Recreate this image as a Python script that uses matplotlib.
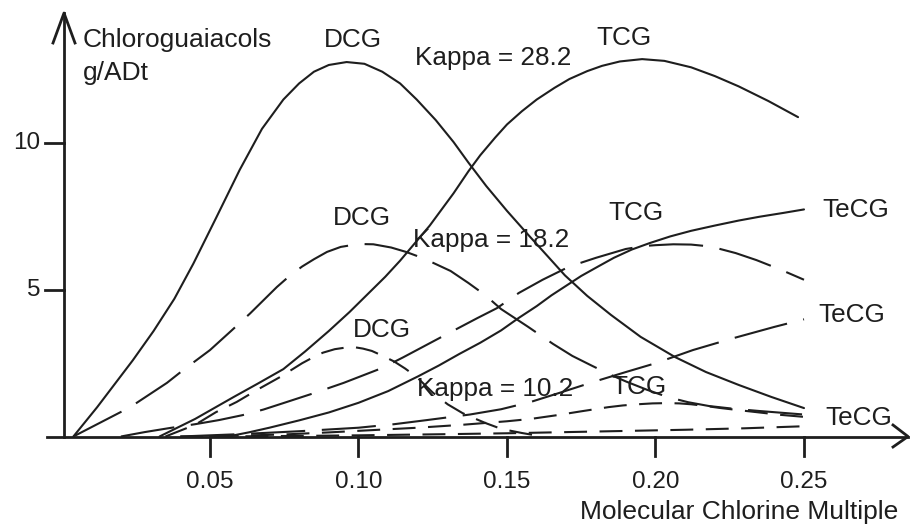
import matplotlib
matplotlib.use("Agg")
import matplotlib.pyplot as plt

plt.rcParams['font.family'] = ['Liberation Sans', 'DejaVu Sans']

# ---------------- data ----------------
x_ticks = [0.05, 0.10, 0.15, 0.20, 0.25]
x_tick_labels = ["0.05", "0.10", "0.15", "0.20", "0.25"]
y_ticks = [5, 10]
y_tick_labels = ["5", "10"]

# Kappa = 28.2 (solid)
dcg_282_x = [0.004, 0.012, 0.018, 0.024, 0.031, 0.038, 0.0444, 0.052, 0.060, 0.0675, 0.0747,
             0.080, 0.085, 0.090, 0.096, 0.102, 0.108, 0.114, 0.1196, 0.126, 0.132, 0.137,
             0.143, 0.15, 0.157, 0.1638, 0.1695, 0.177, 0.185, 0.195, 0.2066, 0.217, 0.228,
             0.239, 0.25]
dcg_282_y = [0.0, 1.0, 1.8, 2.6, 3.6, 4.7, 5.9, 7.45, 9.1, 10.5, 11.5,
             12.05, 12.45, 12.68, 12.78, 12.72, 12.45, 12.05, 11.5, 10.8, 10.05, 9.35,
             8.55, 7.7, 6.9, 6.14, 5.5, 4.8, 4.15, 3.4, 2.71, 2.2, 1.76,
             1.35, 0.97]
tcg_282_x = [0.033, 0.045, 0.058, 0.066, 0.0747, 0.082, 0.09, 0.097, 0.103, 0.109, 0.114,
             0.119, 0.124, 0.128, 0.132, 0.137, 0.141, 0.146, 0.150, 0.155, 0.160, 0.166,
             0.171, 0.177, 0.182, 0.188, 0.1955, 0.203, 0.212, 0.22, 0.228, 0.238, 0.248]
tcg_282_y = [0.0, 0.6, 1.35, 1.8, 2.3, 2.9, 3.6, 4.25, 4.85, 5.45, 6.0,
             6.6, 7.2, 7.75, 8.3, 9.05, 9.6, 10.2, 10.65, 11.1, 11.5, 11.9,
             12.2, 12.47, 12.65, 12.8, 12.88, 12.82, 12.6, 12.3, 11.95, 11.45, 10.9]
tecg_282_x = [0.056, 0.063, 0.07, 0.08, 0.09, 0.1, 0.11, 0.12, 0.127, 0.134, 0.141, 0.148,
              0.154, 0.16, 0.165, 0.17, 0.175, 0.181, 0.186, 0.192, 0.198, 0.205, 0.212,
              0.22, 0.228, 0.235, 0.243, 0.25]
tecg_282_y = [0.0, 0.14, 0.3, 0.55, 0.82, 1.15, 1.55, 2.05, 2.42, 2.82, 3.2, 3.62,
              4.05, 4.45, 4.82, 5.15, 5.48, 5.82, 6.1, 6.38, 6.6, 6.83, 7.02,
              7.2, 7.37, 7.5, 7.63, 7.75]

# Kappa = 18.2 (long dashes)
dcg_182_x = [0.004, 0.0231, 0.0355, 0.041, 0.05, 0.0574, 0.0635, 0.0725, 0.077, 0.081, 0.085,
             0.0894, 0.094, 0.1, 0.105, 0.111, 0.116, 0.12, 0.124, 0.131, 0.137, 0.1426,
             0.148, 0.157, 0.1655, 0.172, 0.1785, 0.185, 0.19, 0.197, 0.204, 0.211, 0.218,
             0.226, 0.235, 0.25]
dcg_182_y = [0.0, 1.0, 1.83, 2.27, 2.95, 3.63, 4.2, 5.1, 5.5, 5.8, 6.05,
             6.3, 6.47, 6.57, 6.56, 6.45, 6.3, 6.15, 5.98, 5.65, 5.24, 4.83,
             4.35, 3.75, 3.16, 2.75, 2.42, 2.1, 1.88, 1.6, 1.35, 1.17, 1.04,
             0.95, 0.87, 0.75]
tcg_182_x = [0.02, 0.028, 0.0365, 0.045, 0.053, 0.061, 0.068, 0.0747, 0.085, 0.095, 0.108,
             0.115, 0.128, 0.14, 0.1466, 0.154, 0.162, 0.171, 0.18, 0.19, 0.196, 0.2,
             0.206, 0.212, 0.217, 0.221, 0.227, 0.234, 0.242, 0.25]
tcg_182_y = [0.0, 0.15, 0.29, 0.42, 0.56, 0.73, 0.92, 1.14, 1.48, 1.83, 2.34,
             2.7, 3.4, 4.04, 4.38, 4.9, 5.35, 5.8, 6.1, 6.4, 6.5, 6.53,
             6.56, 6.55, 6.5, 6.42, 6.26, 6.02, 5.7, 5.35]
tecg_182_x = [0.04, 0.06, 0.08, 0.1, 0.112, 0.123, 0.1375, 0.148, 0.158, 0.168, 0.179,
              0.19, 0.2, 0.2126, 0.226, 0.24, 0.25]
tecg_182_y = [0.0, 0.08, 0.18, 0.3, 0.42, 0.56, 0.75, 0.93, 1.18, 1.5, 1.86,
              2.2, 2.5, 2.95, 3.35, 3.74, 4.0]

# Kappa = 10.2 (short dashes)
dcg_102_x = [0.035, 0.045, 0.052, 0.059, 0.066, 0.0736, 0.081, 0.0843, 0.088, 0.092, 0.096,
             0.0985, 0.1015, 0.1045, 0.108, 0.112, 0.1157, 0.1196, 0.125, 0.13, 0.135, 0.139,
             0.143, 0.147, 0.151, 0.155, 0.159]
dcg_102_y = [0.0, 0.4, 0.83, 1.18, 1.6, 2.03, 2.5, 2.68, 2.86, 2.98, 3.04,
             3.05, 3.0, 2.92, 2.76, 2.56, 2.32, 2.03, 1.5, 1.1, 0.8, 0.62,
             0.45, 0.3, 0.2, 0.12, 0.05]
tcg_102_x = [0.04, 0.06, 0.075, 0.09, 0.105, 0.12, 0.135, 0.15, 0.158, 0.167, 0.175,
             0.184, 0.189, 0.194, 0.199, 0.204, 0.208, 0.212, 0.217, 0.222, 0.228, 0.235,
             0.242, 0.25]
tcg_102_y = [0.0, 0.03, 0.07, 0.14, 0.22, 0.3, 0.4, 0.52, 0.6, 0.73, 0.86,
             1.0, 1.06, 1.1, 1.13, 1.14, 1.13, 1.1, 1.04, 0.97, 0.9, 0.82,
             0.74, 0.67]
tecg_102_x = [0.05, 0.08, 0.1, 0.13, 0.15, 0.17, 0.19, 0.21, 0.23, 0.25]
tecg_102_y = [0.0, 0.02, 0.04, 0.08, 0.11, 0.15, 0.19, 0.23, 0.28, 0.35]

# ---------------- figure ----------------
W, H = 910, 524
fig = plt.figure(figsize=(W / 100, H / 100), dpi=100)
ax = fig.add_axes([0, 0, 1, 1])
ax.set_axis_off()

# pixel <-> data mapping of the reference axes
X0PX, XSCALE = 61.5, 2970.0
Y0PX, YSCALE = 436.5, 29.3
def px_x(p):
    return (p - X0PX) / XSCALE
def px_y(p):
    return (Y0PX - p) / YSCALE

ax.set_xlim(px_x(0), px_x(W))
ax.set_ylim(px_y(H), px_y(0))

ink = '#1e1e1e'
lw = 1.5

solid = dict(color=ink, lw=lw, solid_capstyle='round', solid_joinstyle='round')
long_d = dict(color=ink, lw=lw, dashes=(26, 8), dash_joinstyle='round')
short_d = dict(color=ink, lw=lw, dashes=(11, 6), dash_joinstyle='round')

ax.plot(dcg_282_x, dcg_282_y, **solid)
ax.plot(tcg_282_x, tcg_282_y, **solid)
ax.plot(tecg_282_x, tecg_282_y, **solid)
ax.plot(dcg_182_x, dcg_182_y, **long_d)
ax.plot(tcg_182_x, tcg_182_y, **long_d)
ax.plot(tecg_182_x, tecg_182_y, **long_d)
ax.plot(dcg_102_x, dcg_102_y, **short_d)
ax.plot(tcg_102_x, tcg_102_y, **short_d)
ax.plot(tecg_102_x, tecg_102_y, **short_d)

# axes lines with open arrow heads
axis_lw = 2.0
yax = px_x(64)
ax.plot([yax, yax], [0, px_y(13)], color=ink, lw=axis_lw)
ax.plot([px_x(53), px_x(64), px_x(75)], [px_y(43), px_y(13), px_y(43)], color=ink, lw=axis_lw)
ax.plot([px_x(47), px_x(908)], [0, 0], color=ink, lw=axis_lw)
ax.plot([px_x(893), px_x(908), px_x(893)], [px_y(425), 0, px_y(447)], color=ink, lw=axis_lw)

# ticks
for t in y_ticks:
    ax.plot([px_x(45), yax], [t, t], color=ink, lw=axis_lw)
for t in x_ticks:
    ax.plot([t, t], [0, px_y(456)], color=ink, lw=axis_lw)

fs_tick = 17.5
fs_lab = 18.8
for t, lab in zip(y_ticks, y_tick_labels):
    ax.text(px_x(40), t, lab, ha='right', va='center', fontsize=fs_tick, color=ink)
for t, lab in zip(x_ticks, x_tick_labels):
    ax.text(t, px_y(482), lab, ha='center', va='center', fontsize=fs_tick, color=ink)

# axis titles
ax.text(px_x(83), px_y(47), "Chloroguaiacols", ha='left', va='baseline', fontsize=19, color=ink)
ax.text(px_x(83), px_y(80), "g/ADt", ha='left', va='baseline', fontsize=19, color=ink)
ax.text(px_x(898), px_y(512), "Molecular Chlorine Multiple", ha='right', va='center',
        fontsize=19, color=ink)

# curve labels
labels = [
    ("DCG", 353, 40, 'center'),
    ("Kappa = 28.2", 415, 58, 'left'),
    ("TCG", 624, 38, 'center'),
    ("DCG", 362, 218, 'center'),
    ("Kappa = 18.2", 413, 240, 'left'),
    ("TCG", 636, 213, 'center'),
    ("TeCG", 822, 210, 'left'),
    ("TeCG", 818, 315, 'left'),
    ("DCG", 382, 330, 'center'),
    ("Kappa = 10.2", 417, 389, 'left'),
    ("TCG", 639, 387, 'center'),
    ("TeCG", 825, 418, 'left'),
]
for txt, px, py, ha in labels:
    ax.text(px_x(px), px_y(py), txt, ha=ha, va='center', fontsize=fs_lab, color=ink)

fig.savefig("out.png", dpi=100, facecolor='white')
